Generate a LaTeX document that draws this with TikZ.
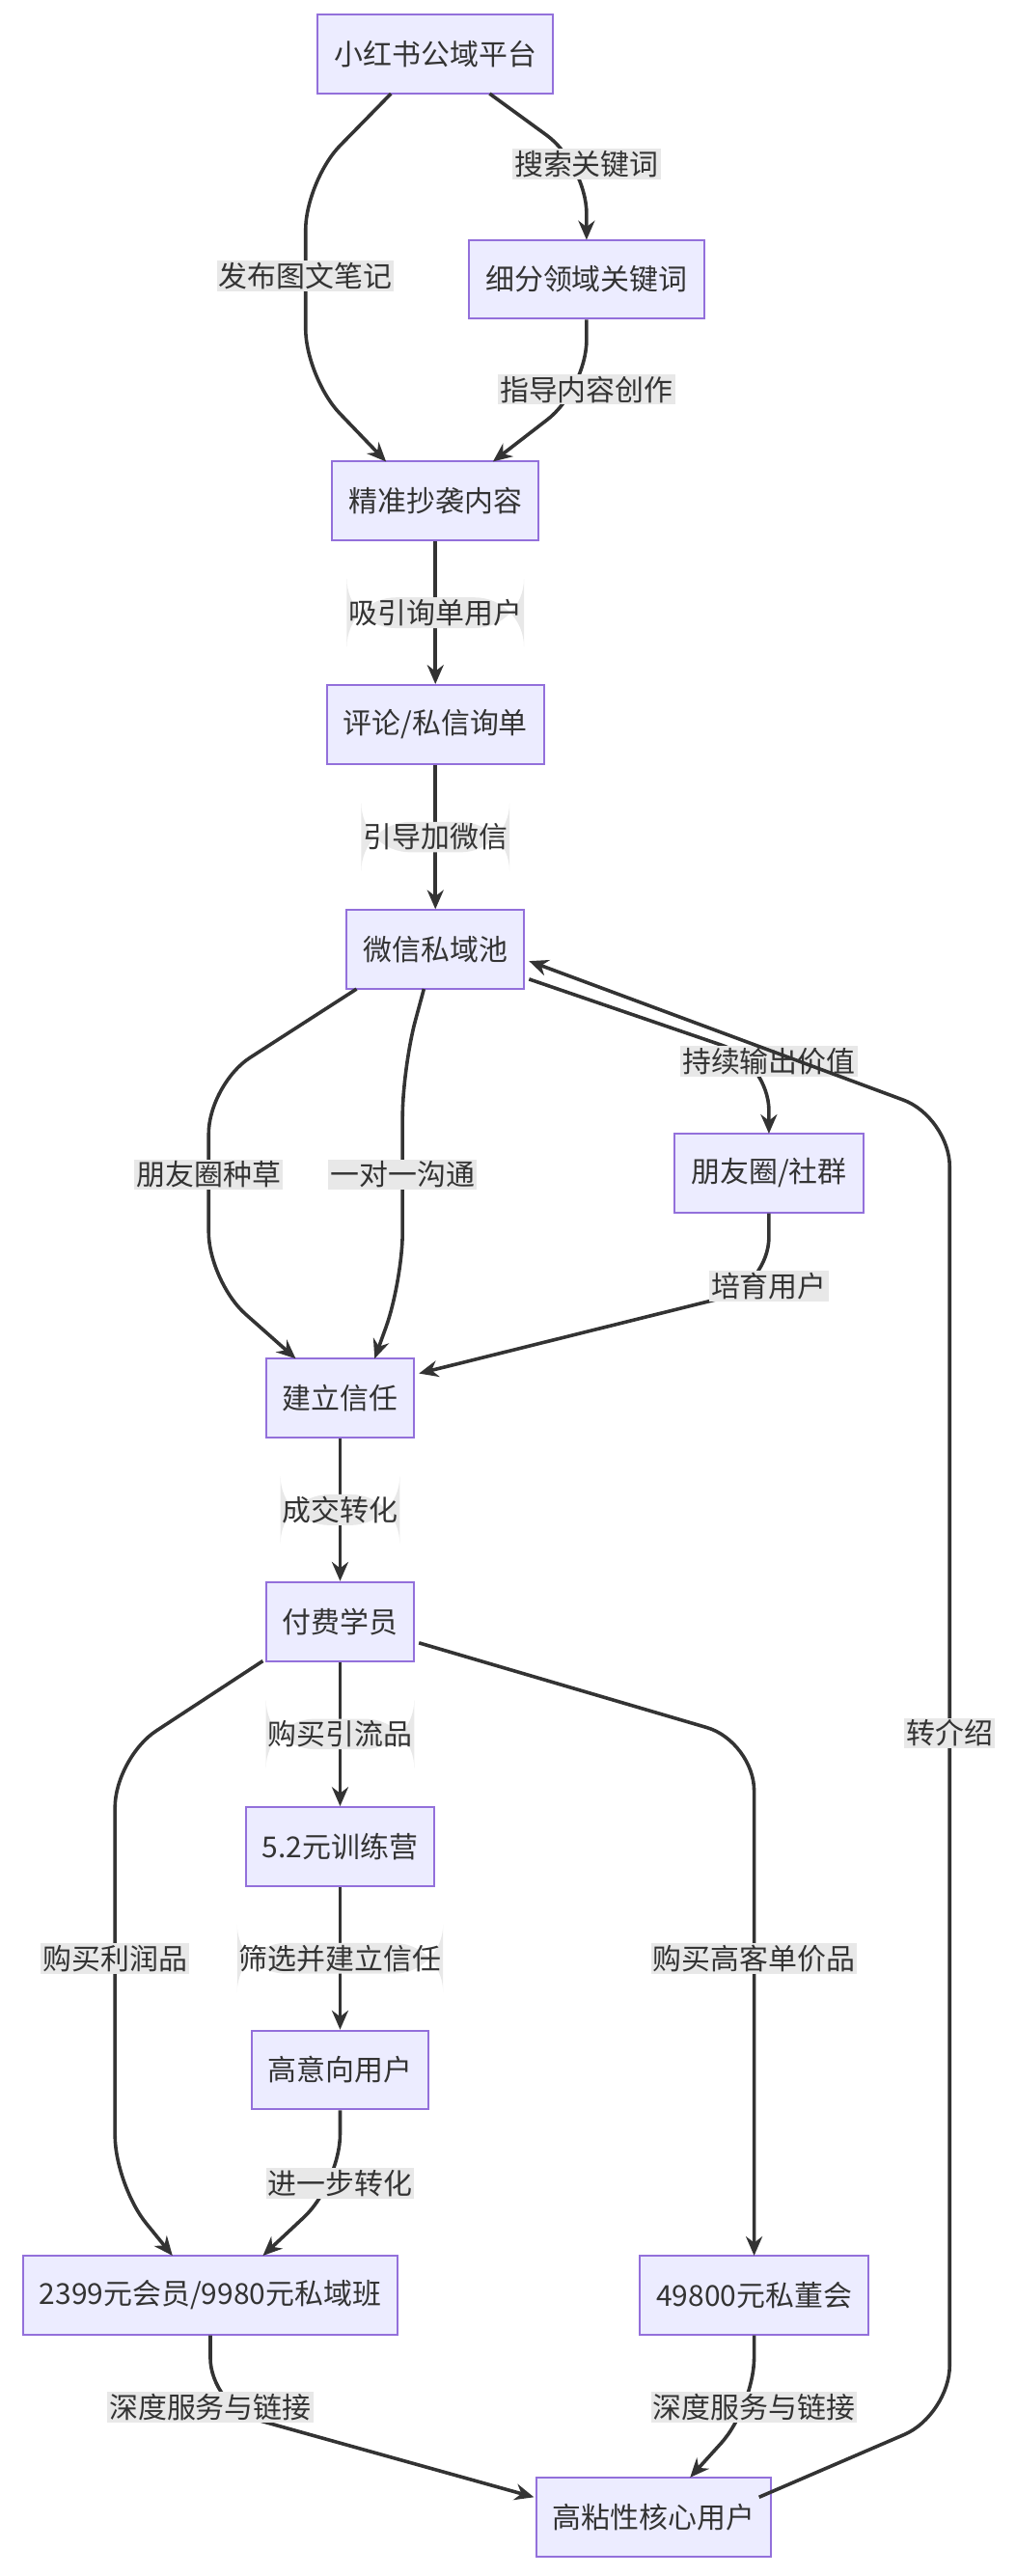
\documentclass[tikz,border=0pt]{standalone}
\usepackage{fontspec}
\setmainfont{Noto Sans CJK SC}
\usetikzlibrary{arrows.meta}
\definecolor{boxline}{HTML}{9370DB}
\definecolor{boxfill}{HTML}{ECECFF}
\definecolor{edge}{HTML}{333333}
\definecolor{lblfill}{HTML}{E8E8E8}
\tikzset{
  box/.style={draw=boxline, fill=boxfill, line width=1pt, minimum height=1.44cm, inner xsep=0.3cm, font=\fontsize{15}{18}\selectfont, text=edge},
  link/.style={draw=edge, line width=1.8pt, rounded corners=0.9cm, -{Stealth[length=0.35cm,width=0.3cm]}},
  lbl/.style={fill=lblfill, inner sep=1pt, font=\fontsize{15}{18}\selectfont, text=edge}
}
\begin{document}
\begin{tikzpicture}[x=0.03cm, y=-0.03cm]
\useasboundingbox (0,0) rectangle (618,1568);

\node[box] (ptf) at (265,33) {小红书公域平台};
\node[box] (kw) at (357,170) {细分领域关键词};
\node[box] (copy) at (265,305) {精准抄袭内容};
\node[box] (ask) at (265,441) {评论/私信询单};
\node[box] (wx) at (265,578) {微信私域池};
\node[box] (moments) at (468,714) {朋友圈/社群};
\node[box] (trust) at (207,851) {建立信任};
\node[box] (paid) at (207,987) {付费学员};
\node[box] (camp) at (207,1124) {5.2元训练营};
\node[box] (high) at (207,1260) {高意向用户};
\node[box] (member) at (128,1397) {2399元会员/9980元私域班};
\node[box] (board) at (459,1397) {49800元私董会};
\node[box] (core) at (398,1532) {高粘性核心用户};

% upper funnel
\draw[link] (238,57) -- (186,110) -- (186,230) -- (235,281);
\node[lbl] at (186,168) {发布图文笔记};
\draw[link] (298,57) -- (357,100) -- (357,146);
\node[lbl] at (357,100) {搜索关键词};
\draw[link] (kw.south) -- (357,237) -- (300,281);
\node[lbl] at (357,237) {指导内容创作};
\draw[link] (copy) -- (ask) node[lbl, midway] {吸引询单用户};
\draw[link] (ask) -- (wx) node[lbl, midway] {引导加微信};

% private pool
\draw[link] (217,602) -- (127,660) -- (127,780) -- (180,827);
\node[lbl] at (127,715) {朋友圈种草};
\draw[link] (258,602) -- (245,650) -- (245,780) -- (228,827);
\node[lbl] at (245,715) {一对一沟通};
\draw[link] (322,596) -- (468,646) -- (468,690);
\node[lbl] at (468,646) {持续输出价值};
\draw[link] (moments.south) -- (468,783) -- (255,836);
\node[lbl] at (468,783) {培育用户};
\draw[link] (trust) -- (paid) node[lbl, midway] {成交转化};

% products
\draw[link] (160,1011) -- (70,1070) -- (70,1330) -- (105,1373);
\node[lbl] at (70,1192) {购买利润品};
\draw[link] (paid) -- (camp) node[lbl, midway] {购买引流品};
\draw[link] (255,1000) -- (459,1060) -- (459,1373);
\node[lbl] at (459,1192) {购买高客单价品};
\draw[link] (camp) -- (high) node[lbl, midway] {筛选并建立信任};
\draw[link] (high.south) -- (207,1329) -- (160,1373);
\node[lbl] at (207,1329) {进一步转化};

% retention
\draw[link] (member.south) -- (128,1465) -- (325,1520);
\node[lbl] at (128,1465) {深度服务与链接};
\draw[link] (board.south) -- (459,1465) -- (420,1508);
\node[lbl] at (459,1465) {深度服务与链接};
\draw[link] (462,1520) -- (578,1470) -- (578,680) -- (322,585);
\node[lbl] at (578,1055) {转介绍};
\end{tikzpicture}
\end{document}
